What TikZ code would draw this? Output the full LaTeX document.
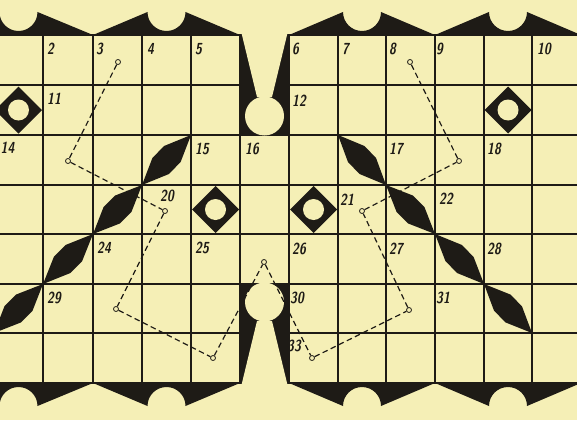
\documentclass[tikz,border=0pt]{standalone}
\usetikzlibrary{calc}
\definecolor{bg}{RGB}{245,239,182}
\definecolor{ink}{RGB}{30,27,22}
\newcommand\digitz[1]{\scalebox{0.78}[1]{#1}}
\newcommand\mkspindle[2]{\fill[ink] (#1) -- ($(#1)!0.38!(#2)!11.5pt!90:(#2)$) -- ($(#1)!0.62!(#2)!11.5pt!90:(#2)$) -- (#2) -- ($(#1)!0.62!(#2)!11.5pt!-90:(#2)$) -- ($(#1)!0.38!(#2)!11.5pt!-90:(#2)$) -- cycle;}
\begin{document}
\begin{tikzpicture}[x=1pt,y=-1pt,
  gridline/.style={draw=ink, line width=1.8pt},
  hole/.style={fill=bg},
  num/.style={anchor=north west, inner sep=0pt, text=ink, font=\fontsize{16}{16}\sffamily\bfseries\slshape},
  pivot/.style={circle, draw=ink, fill=bg, line width=0.8pt, inner sep=0pt, minimum size=5pt},
  link/.style={draw=ink, dash pattern=on 5.5pt off 3.5pt, line width=1.2pt}]
\fill[bg] (0,0) rectangle (577,420);
\useasboundingbox (0,0) rectangle (577,420);
% grid
\foreach \x in {-6,43,93,142,191,240,289,338,386,435,484,532,581}
  \draw[gridline] (\x,35) -- (\x,383);
\foreach \y in {35,85,135,185,234,284,333,383}
  \draw[gridline] (-6,\y) -- (581,\y);
% top teeth
\fill[ink] (-0.5,35) -- (-0.5,12) arc[start angle=180,end angle=0,radius=19] -- (93,35) -- (147.5,12) arc[start angle=180,end angle=0,radius=19] -- (240,35) -- cycle;
\fill[ink] (289,35) -- (343,12) arc[start angle=180,end angle=0,radius=19] -- (435,35) -- (489,12) arc[start angle=180,end angle=0,radius=19] -- (581,35) -- cycle;
% bottom teeth
\fill[ink] (-0.5,383) -- (-0.5,406) arc[start angle=180,end angle=360,radius=19] -- (93,383) -- (147.5,406) arc[start angle=180,end angle=360,radius=19] -- (240,383) -- cycle;
\fill[ink] (289,383) -- (343,406) arc[start angle=180,end angle=360,radius=19] -- (435,383) -- (489,406) arc[start angle=180,end angle=360,radius=19] -- (581,383) -- cycle;
% keyholes
\fill[ink] (239.1,35) rectangle (289.9,136);
\fill[hole] (241,31) -- (288,31) -- (272,97) -- (257,97) -- cycle;
\fill[hole] (264.5,116) circle[radius=19.5];
\fill[ink] (239.1,283) rectangle (289.9,383);
\fill[hole] (257,321) -- (272,321) -- (288,387) -- (241,387) -- cycle;
\fill[hole] (264.5,302) circle[radius=19.5];
% washers
\foreach \cx/\cy in {18.5/110, 508/110, 215.5/209.5, 313.5/209.5}{
  \fill[ink] (\cx,\cy-23.5) -- (\cx+23.5,\cy) -- (\cx,\cy+23.5) -- (\cx-23.5,\cy) -- cycle;
  \fill[hole] (\cx,\cy) circle[radius=10.5];
}
% spindles
\coordinate (a0) at (191,135); \coordinate (a1) at (142,185); \coordinate (a2) at (93,234);
\coordinate (a3) at (43,284); \coordinate (a4) at (-6,333);
\coordinate (b0) at (338,135); \coordinate (b1) at (386,185); \coordinate (b2) at (435,234);
\coordinate (b3) at (484,284); \coordinate (b4) at (532,333);
\mkspindle{a0}{a1}\mkspindle{a1}{a2}\mkspindle{a2}{a3}\mkspindle{a3}{a4}
\mkspindle{b0}{b1}\mkspindle{b1}{b2}\mkspindle{b2}{b3}\mkspindle{b3}{b4}
% linkage
\node[pivot] (p1) at (118,62) {};
\node[pivot] (p2) at (68,161) {};
\node[pivot] (p3) at (165,211) {};
\node[pivot] (p4) at (116,309) {};
\node[pivot] (p5) at (213,358) {};
\node[pivot] (p6) at (264,262) {};
\node[pivot] (p7) at (312,358) {};
\node[pivot] (p8) at (409,310) {};
\node[pivot] (p9) at (362,211) {};
\node[pivot] (p10) at (459,161) {};
\node[pivot] (p11) at (410,62) {};
\draw[link] (p1) -- (p2) -- (p3) -- (p4) -- (p5) -- (p6) -- (p7) -- (p8) -- (p9) -- (p10) -- (p11);
% numbers
\node[num] (n2) at (47,43) {\digitz{2}};
\node[num] (n3) at (96,43) {\digitz{3}};
\node[num] (n4) at (147,43) {\digitz{4}};
\node[num] (n5) at (195,43) {\digitz{5}};
\node[num] (n6) at (292,43) {\digitz{6}};
\node[num] (n7) at (342,43) {\digitz{7}};
\node[num] (n8) at (389,43) {\digitz{8}};
\node[num] (n9) at (436,43) {\digitz{9}};
\node[num] (n10) at (537,43) {\digitz{10}};
\node[num] (n11) at (47,93) {\digitz{11}};
\node[num] (n12) at (292,95) {\digitz{12}};
\node[num] (n14) at (0.5,142) {\digitz{14}};
\node[num] (n15) at (195,143) {\digitz{15}};
\node[num] (n16) at (245,143) {\digitz{16}};
\node[num] (n17) at (389,143) {\digitz{17}};
\node[num] (n18) at (487,143) {\digitz{18}};
\node[num] (n20) at (160,190) {\digitz{20}};
\node[num] (n21) at (340,194) {\digitz{21}};
\node[num] (n22) at (439,193) {\digitz{22}};
\node[num] (n24) at (97,242) {\digitz{24}};
\node[num] (n25) at (195,242) {\digitz{25}};
\node[num] (n26) at (292,243) {\digitz{26}};
\node[num] (n27) at (389,243) {\digitz{27}};
\node[num] (n28) at (487,243) {\digitz{28}};
\node[num] (n29) at (47,292) {\digitz{29}};
\node[num] (n30) at (290,292) {\digitz{30}};
\node[num] (n31) at (436,292) {\digitz{31}};
\node[num] (n33) at (287,340) {\digitz{33}};
\end{tikzpicture}
\end{document}
